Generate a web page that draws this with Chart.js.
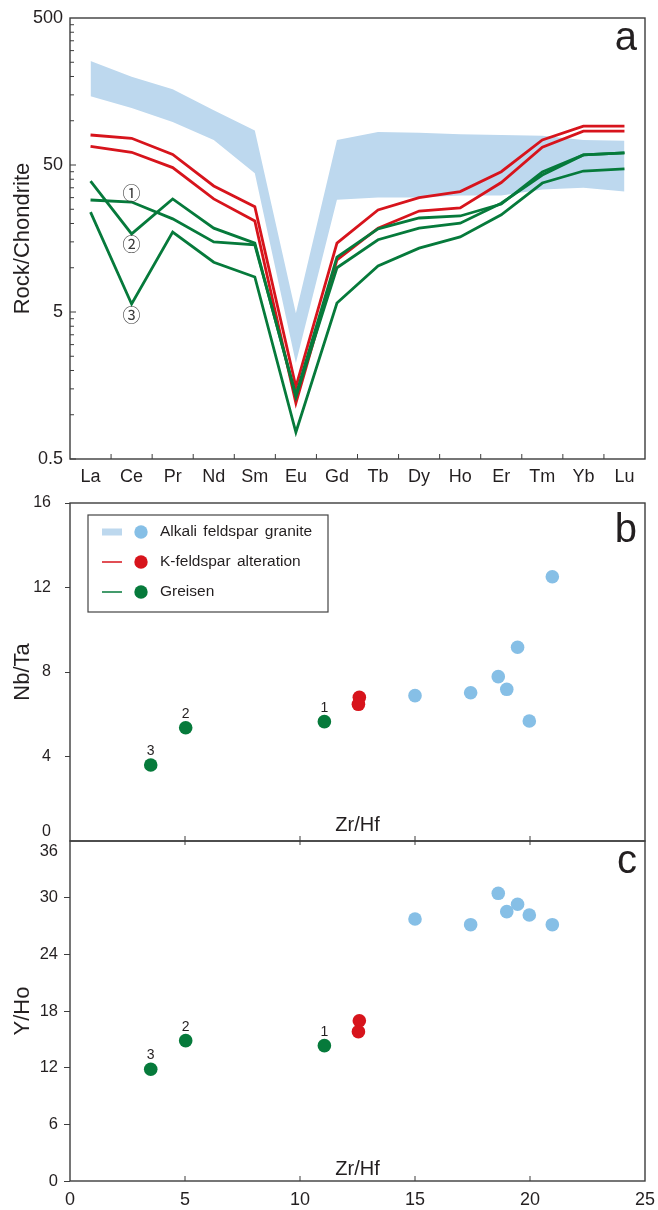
<!DOCTYPE html>
<html>
<head>
<meta charset="utf-8">
<script src="https://cdn.jsdelivr.net/npm/chart.js@4.4.0/dist/chart.umd.min.js"></script>
<style>
html, body { margin:0; padding:0; background:#fff; }
#wrap { position:relative; width:658px; height:1210px; overflow:hidden; }
.pane { position:absolute; left:0; width:658px; }
canvas { display:block; }
</style>
</head>
<body>
<div id="wrap">
  <div class="pane" style="top:0;height:490px"><canvas id="ree" width="658" height="490"></canvas></div>
  <div class="pane" style="top:490px;height:360px"><canvas id="nbta" width="658" height="360"></canvas></div>
  <div class="pane" style="top:820px;height:390px"><canvas id="yho" width="658" height="390"></canvas></div>
</div>
<script>
Chart.defaults.font.family = '"Liberation Sans", Arial, Helvetica, sans-serif'
Chart.defaults.color = '#231f20'
Chart.defaults.animation = false
Chart.defaults.events = []
Chart.defaults.plugins.legend.display = false
Chart.defaults.plugins.tooltip.enabled = false

// panel a : chondrite-normalised REE
var ree = ['La','Ce','Pr','Nd','Sm','Eu','Gd','Tb','Dy','Ho','Er','Tm','Yb','Lu']
var graniteTop    = [255, 199, 164, 118, 86, 4.9, 74, 84, 83, 81, 80, 79, 74, 73]
var graniteBottom = [147, 122, 98, 74, 44, 2.25, 29, 30, 30, 31, 31, 34, 35, 33]
var kspar1   = [80, 76, 59, 36, 26, 1.55, 14.7, 24.7, 30, 33, 45, 74, 92, 92]
var kspar2   = [67, 61, 48, 29.4, 20.8, 1.2, 11.3, 18.6, 24.3, 25.5, 38, 66, 85, 85]
var greisen1 = [28.9, 28, 21.5, 15, 14.3, 1.36, 11.8, 18.4, 21.8, 22.5, 27.1, 44.8, 58.5, 60.4]
var greisen2 = [38.9, 17, 29.4, 18.6, 14.7, 1.32, 10, 15.5, 18.6, 20.1, 27.5, 42.7, 58.5, 60.4]
var greisen3 = [23.9, 5.67, 17.5, 10.9, 8.65, 0.76, 5.75, 10.3, 13.6, 16.2, 22.9, 37.7, 45.5, 47]
var reeTicks = [0.5, 5, 50, 500]
var circled = ['①', '②', '③']
var circledAt = [32.3, 14.5, 4.77]   // values at Ce where the marks sit

// panels b and c : ratios vs Zr/Hf
var zrhfGranite = [15.0, 17.42, 18.62, 18.99, 19.46, 19.97, 20.97]
var nbtaGranite = [6.88, 7.02, 7.78, 7.18, 9.17, 5.68, 12.51]
var yhoGranite  = [27.74, 27.14, 30.46, 28.52, 29.3, 28.17, 27.14]
var zrhfKspar = [12.58, 12.54]
var nbtaKspar = [6.80, 6.47]
var yhoKspar  = [16.97, 15.81]
var zrhfGreisen = [11.06, 5.03, 3.51]
var nbtaGreisen = [5.65, 5.36, 3.6]
var yhoGreisen  = [14.33, 14.86, 11.83]
var greisenNo = ['1', '2', '3']
var zrhfTicks = [0, 5, 10, 15, 20, 25]
var nbtaTicks = [0, 4, 8, 12, 16]
var yhoTicks  = [0, 6, 12, 18, 24, 30, 36]

var BAND = '#bdd8ee', BLUE = '#86bfe6', RED = '#d7141c', GREEN = '#067a3b'
var INK = '#231f20', FRAME = '#3d3d3d'
var FONT = '"Liberation Sans", Arial, Helvetica, sans-serif'

// pin axis boxes to fixed sizes so the plot areas land where the figure has them
function noPad(s) { s.paddingTop = s.paddingBottom = s.paddingLeft = s.paddingRight = 0 }
function fixWidth(w) { return function(s) { s.width = w; noPad(s) } }
function fixHeight(h) { return function(s) { s.height = h; noPad(s) } }
function setTicks(list) { return function(s) { s.ticks = list.map(function(v) { return {value: v} }) } }
function pts(xs, ys) { return xs.map(function(x, i) { return {x: x, y: ys[i]} }) }
function line(vals, color) {
  return {data: vals, borderColor: color, borderWidth: 2.8, pointRadius: 0, fill: false, tension: 0, borderJoinStyle: 'miter'}
}
function dots(data, color) {
  return {data: data, backgroundColor: color, borderColor: color, borderWidth: 0, pointRadius: 6.8}
}
function yTitle(text) {
  return {display: true, text: text, color: INK, font: {size: 22}, padding: {top: 10, bottom: 0}}
}

var reeDecor = {
  id: 'reeDecor',
  afterDraw: function(chart) {
    var c = chart.ctx, a = chart.chartArea, x = chart.scales.x, y = chart.scales.y
    c.save()
    c.strokeStyle = FRAME
    c.lineWidth = 1.4
    c.strokeRect(a.left, a.top, a.right - a.left, a.bottom - a.top)
    c.lineWidth = 1
    c.beginPath()
    for (var i = 0; i < ree.length - 1; i++) {
      var px = (x.getPixelForValue(i) + x.getPixelForValue(i + 1)) / 2
      c.moveTo(px, a.bottom); c.lineTo(px, a.bottom - 5)
    }
    [0.5, 5, 50].forEach(function(d) {
      for (var m = 1; m <= 9; m++) {
        var py = y.getPixelForValue(d * m)
        c.moveTo(a.left, py); c.lineTo(a.left + (m === 1 ? 6 : 4), py)
      }
    })
    c.stroke()
    c.fillStyle = '#3a3a3a'
    c.font = '18px "Noto Sans CJK SC", "DejaVu Sans", sans-serif'
    c.textAlign = 'center'
    c.textBaseline = 'middle'
    circled.forEach(function(t, i) { c.fillText(t, x.getPixelForValue(1), y.getPixelForValue(circledAt[i])) })
    c.fillStyle = INK
    c.font = '40px ' + FONT
    c.textAlign = 'right'
    c.textBaseline = 'alphabetic'
    c.fillText('a', a.right - 8, a.top + 32)
    c.restore()
  }
}

function panelDecor(o) {
  return {
    id: 'decor' + o.letter,
    afterDraw: function(chart) {
      var c = chart.ctx, a = chart.chartArea, x = chart.scales.x, y = chart.scales.y
      c.save()
      c.strokeStyle = FRAME
      c.lineWidth = 1.4
      c.strokeRect(a.left, a.top, a.right - a.left, a.bottom - a.top)
      c.lineWidth = 1
      c.beginPath()
      zrhfTicks.slice(1, -1).forEach(function(v) {
        var px = x.getPixelForValue(v)
        c.moveTo(px, a.bottom); c.lineTo(px, a.bottom - 5)
        if (o.topTicks) { c.moveTo(px, a.top); c.lineTo(px, a.top + 4) }
      })
      c.stroke()
      c.fillStyle = INK
      c.font = '20px ' + FONT
      c.textAlign = 'center'
      c.textBaseline = 'alphabetic'
      c.fillText('Zr/Hf', x.getPixelForValue(12.5), a.bottom - o.zrOff)
      c.font = '40px ' + FONT
      c.textAlign = 'right'
      c.fillText(o.letter, a.right - 8, a.top + o.letterOff)
      // end label moved off the shared border
      c.font = o.tickSize + 'px ' + FONT
      c.textBaseline = 'middle'
      c.fillText(String(o.edgeValue), o.edgeX, y.getPixelForValue(o.edgeValue) + o.edgeShift)
      // sample numbers over the greisen points
      c.font = '14px ' + FONT
      c.textAlign = 'center'
      chart.getDatasetMeta(0).data.forEach(function(p, i) { c.fillText(greisenNo[i], p.x, p.y - 14) })
      if (o.legend) {
        var lx = a.left + 18, ly = a.top + 12
        c.strokeStyle = '#444'
        c.lineWidth = 1.2
        c.strokeRect(lx, ly, 240, 97)
        var rows = [['Alkali feldspar granite', BLUE, 'band'], ['K-feldspar alteration', RED, 'line'], ['Greisen', GREEN, 'line']]
        c.font = '15.5px ' + FONT
        c.textAlign = 'left'
        c.textBaseline = 'middle'
        if ('wordSpacing' in c) c.wordSpacing = '2px'
        rows.forEach(function(r, i) {
          var ry = ly + 17 + i * 30
          if (r[2] === 'band') {
            c.fillStyle = BAND
            c.fillRect(lx + 14, ry - 3.5, 20, 7)
          } else {
            c.strokeStyle = r[1]
            c.lineWidth = 1.5
            c.beginPath(); c.moveTo(lx + 14, ry); c.lineTo(lx + 34, ry); c.stroke()
          }
          c.fillStyle = r[1]
          c.beginPath(); c.arc(lx + 53, ry, 6.7, 0, Math.PI * 2); c.fill()
          c.fillStyle = INK
          c.fillText(r[0], lx + 72, ry)
        })
      }
      c.restore()
    }
  }
}

new Chart(document.getElementById('ree'), {
  type: 'line',
  data: {
    labels: ree,
    datasets: [
      line(greisen1, GREEN), line(greisen2, GREEN), line(greisen3, GREEN),
      line(kspar1, RED), line(kspar2, RED),
      {data: graniteTop, borderColor: 'rgba(0,0,0,0)', borderWidth: 0, backgroundColor: BAND, fill: '+1', pointRadius: 0, tension: 0},
      {data: graniteBottom, borderColor: 'rgba(0,0,0,0)', borderWidth: 0, pointRadius: 0, fill: false, tension: 0}
    ]
  },
  options: {
    responsive: false,
    layout: {padding: {top: 18, right: 13, left: 0, bottom: 0}},
    scales: {
      x: {
        offset: true,
        grid: {display: false, drawTicks: false},
        border: {display: false},
        ticks: {font: {size: 18}, padding: 7, color: INK, maxRotation: 0, autoSkip: false},
        afterFit: fixHeight(31)
      },
      y: {
        type: 'logarithmic', min: 0.5, max: 500,
        afterBuildTicks: setTicks(reeTicks),
        grid: {display: false, drawTicks: false},
        border: {display: false},
        ticks: {font: {size: 18}, padding: 7, color: INK, callback: function(v) { return String(v) }},
        title: yTitle('Rock/Chondrite'),
        afterFit: fixWidth(70)
      }
    }
  },
  plugins: [reeDecor]
})

new Chart(document.getElementById('nbta'), {
  type: 'scatter',
  data: {datasets: [
    dots(pts(zrhfGreisen, nbtaGreisen), GREEN),
    dots(pts(zrhfKspar, nbtaKspar), RED),
    dots(pts(zrhfGranite, nbtaGranite), BLUE)
  ]},
  options: {
    responsive: false,
    layout: {padding: {top: 13, right: 13, left: 0, bottom: 4}},
    scales: {
      x: {
        type: 'linear', min: 0, max: 25,
        ticks: {display: false},
        grid: {display: false, drawTicks: false},
        border: {display: false},
        afterFit: fixHeight(5)
      },
      y: {
        min: 0, max: 16,
        afterBuildTicks: setTicks(nbtaTicks),
        grid: {drawOnChartArea: false, tickLength: 5, color: FRAME},
        border: {display: false},
        ticks: {font: {size: 16}, padding: 14, color: INK, callback: function(v) { return v === 0 ? null : String(v) }},
        title: yTitle('Nb/Ta'),
        afterFit: fixWidth(70)
      }
    }
  },
  plugins: [panelDecor({letter: 'b', letterOff: 39, zrOff: 10, topTicks: false, legend: true,
    edgeValue: 0, edgeX: 51, edgeShift: -9, tickSize: 16})]
})

new Chart(document.getElementById('yho'), {
  type: 'scatter',
  data: {datasets: [
    dots(pts(zrhfGreisen, yhoGreisen), GREEN),
    dots(pts(zrhfKspar, yhoKspar), RED),
    dots(pts(zrhfGranite, yhoGranite), BLUE)
  ]},
  options: {
    responsive: false,
    layout: {padding: {top: 21, right: 13, left: 0, bottom: 0}},
    scales: {
      x: {
        type: 'linear', min: 0, max: 25,
        afterBuildTicks: setTicks(zrhfTicks),
        grid: {display: false, drawTicks: false},
        border: {display: false},
        ticks: {font: {size: 18}, padding: 8, color: INK, maxRotation: 0},
        afterFit: fixHeight(29)
      },
      y: {
        min: 0, max: 36,
        afterBuildTicks: setTicks(yhoTicks),
        grid: {drawOnChartArea: false, tickLength: 6, color: FRAME},
        border: {display: false},
        ticks: {font: {size: 16.5}, padding: 6, color: INK, callback: function(v) { return v === 36 ? null : String(v) }},
        title: yTitle('Y/Ho'),
        afterFit: fixWidth(70)
      }
    }
  },
  plugins: [panelDecor({letter: 'c', letterOff: 32, zrOff: 6, topTicks: true, legend: false,
    edgeValue: 36, edgeX: 58, edgeShift: 10, tickSize: 16.5})]
})
</script>
</body>
</html>
